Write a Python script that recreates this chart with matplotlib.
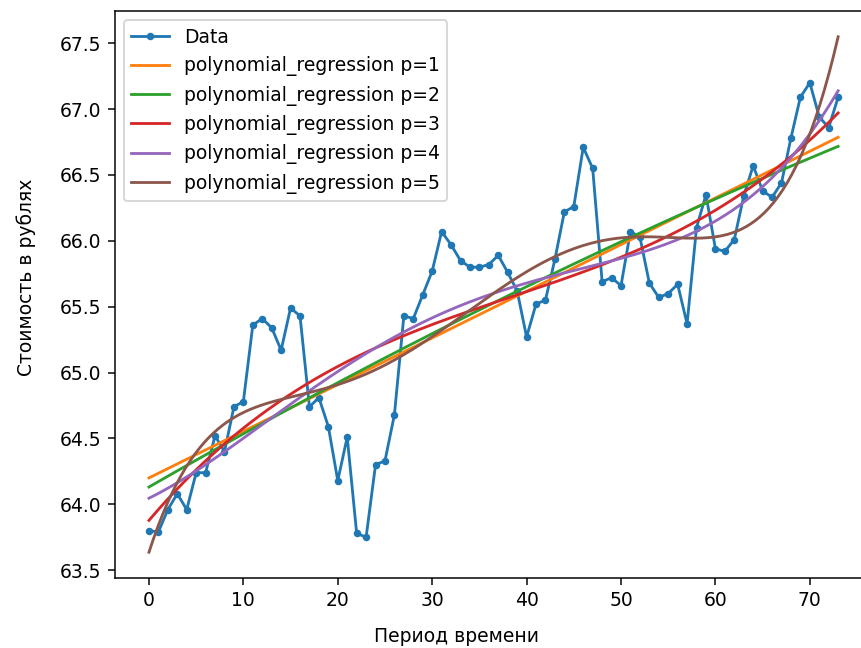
import numpy as np
from matplotlib import pyplot as plt

# курс по дням
days = np.arange(74)
price = [63.80, 63.79, 63.96, 64.08, 63.96, 64.24, 64.24, 64.52, 64.40, 64.74,
         64.78, 65.36, 65.41, 65.34, 65.17, 65.49, 65.43, 64.74, 64.81, 64.59,
         64.18, 64.51, 63.78, 63.75, 64.30, 64.33, 64.68, 65.43, 65.41, 65.59,
         65.77, 66.07, 65.97, 65.85, 65.80, 65.80, 65.82, 65.89, 65.76, 65.62,
         65.27, 65.52, 65.55, 65.86, 66.22, 66.26, 66.71, 66.55, 65.69, 65.72,
         65.66, 66.07, 66.03, 65.68, 65.57, 65.60, 65.67, 65.37, 66.10, 66.35,
         65.94, 65.92, 66.01, 66.34, 66.57, 66.38, 66.33, 66.44, 66.78, 67.09,
         67.20, 66.94, 66.86, 67.09]
degrees = [1, 2, 3, 4, 5]

fig = plt.figure(figsize=(861/135, 648/135), dpi=135)
ax = fig.add_axes([114.5/861, 1 - 578/648, (872.6 - 114.5)/861, (578 - 11)/648])

ax.plot(days, price, marker='.', label='Data')

xs = np.linspace(days[0], days[-1], 300)
for p in degrees:
    coef = np.polyfit(days, price, p)
    ax.plot(xs, np.polyval(coef, xs), label=f'polynomial_regression p={p}')

ax.set_xlabel('Период времени', labelpad=9, x=0.451)
ax.set_ylabel('Стоимость в рублях', labelpad=12.5, y=0.53)
ax.legend(loc='upper left')

fig.savefig('out.png', dpi=135)
